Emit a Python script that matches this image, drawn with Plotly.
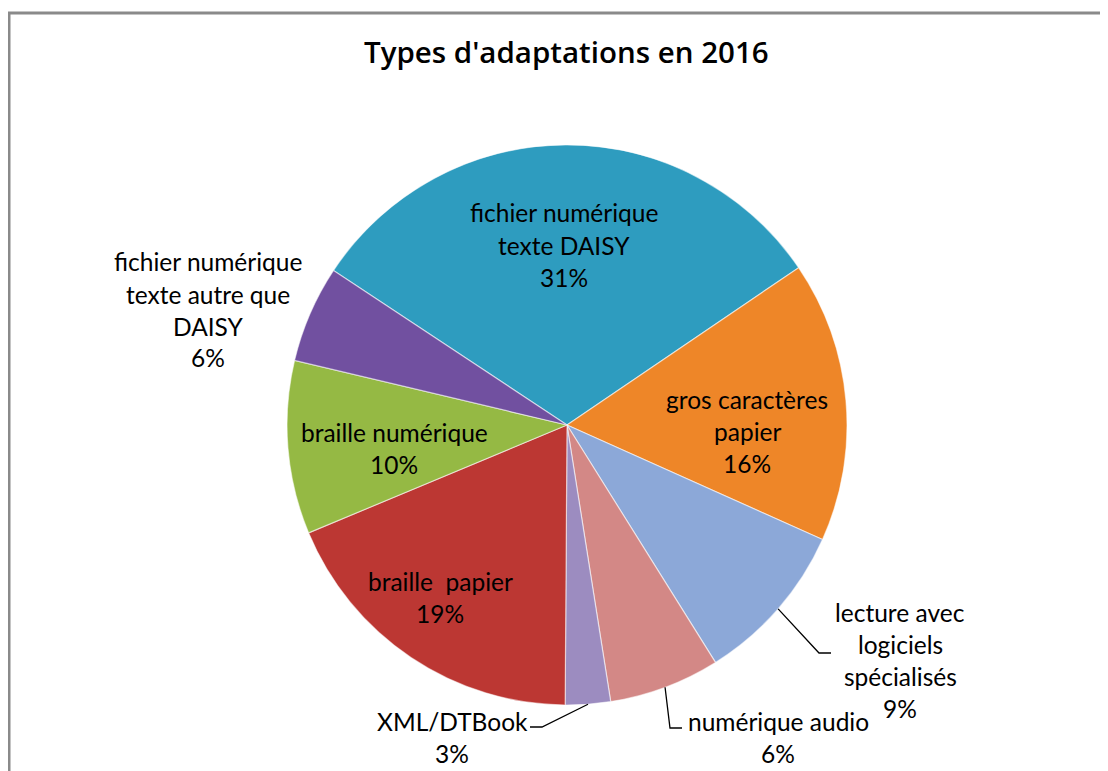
import math
import plotly.graph_objects as go

# ---------------- data ----------------
categories = [
    "fichier numérique<br>texte DAISY",
    "gros caractères<br>papier",
    "lecture avec<br>logiciels<br>spécialisés",
    "numérique audio",
    "XML/DTBook",
    "braille\u00a0\u00a0papier",
    "braille numérique",
    "fichier numérique<br>texte autre que<br>DAISY",
]
values = [31.2, 16.2, 9.4, 6.4, 2.6, 18.6, 10.0, 5.6]
title_text = "Types d'adaptations en 2016"

# ---------------- styles ----------------
colors = ["#2E9CBF", "#EE8628", "#8CA8D8", "#D38886",
          "#9C8CC0", "#BC3733", "#95B944", "#7150A0"]

W, H = 1108, 771
OFF = 8  # page body margin
CX, CY, R = 567, 425, 280
ROTATION = -56.5
FONT = "Lato, Carlito, Calibri, sans-serif"
FS = 24.5
LINE_H = 32

# label centre (pixels) and optional leader elbow points (pixels)
label_pos = [
    (564, 245, None),
    (747, 431, None),
    (900, 660, [(819, 653), (831, 653)]),
    (778, 737, [(670, 728), (682, 728)]),
    (452, 737, [(542, 727), (530, 727)]),
    (440, 597, None),
    (394, 448, None),
    (208, 310, None),
]


def px(x):
    return (x - OFF) / W


def py(y):
    return 1 - (y - OFF) / H


fig = go.Figure(go.Pie(
    labels=[c.replace("<br>", " ") for c in categories],
    values=values,
    sort=False,
    direction="clockwise",
    rotation=ROTATION,
    textinfo="none",
    hoverinfo="label+percent",
    marker=dict(colors=colors, line=dict(color="rgba(255,255,255,0.55)", width=1.2)),
    domain=dict(x=[px(CX - R), px(CX + R)], y=[py(CY + R), py(CY - R)]),
    showlegend=False,
))

total = sum(values)
annotations = []
shapes = []
cum = 0.0
for cat, v, (lx, ly, elbow) in zip(categories, values, label_pos):
    mid = ROTATION + (cum + v / 2) / total * 360
    cum += v
    pct = f"{round(v / total * 100)}%"
    lines = cat.split("<br>") + [pct]
    n = len(lines)
    for i, t in enumerate(lines):
        yy = ly + (i - (n - 1) / 2) * LINE_H
        annotations.append(dict(
            x=px(lx), y=py(yy), xref="paper", yref="paper",
            text=t, showarrow=False, xanchor="center", yanchor="middle",
            font=dict(family=FONT, size=FS, color="#000000"),
        ))
    if elbow:
        a = math.radians(mid)
        sx = CX + R * math.sin(a)
        sy = CY - R * math.cos(a)
        pts = [(sx, sy)] + elbow
        path = "M " + " L ".join(f"{px(x):.5f},{py(y):.5f}" for x, y in pts)
        shapes.append(dict(type="path", path=path, xref="paper", yref="paper",
                           line=dict(color="#000000", width=1.3)))

# chart frame (top and left edges visible)
shapes.append(dict(type="line", xref="paper", yref="paper",
                   x0=px(8), y0=py(13), x1=px(W + 40), y1=py(13),
                   line=dict(color="#8A8A8A", width=3)))
shapes.append(dict(type="line", xref="paper", yref="paper",
                   x0=px(9), y0=py(12), x1=px(9), y1=py(H + 40),
                   line=dict(color="#8A8A8A", width=3)))

annotations.append(dict(
    x=px(566), y=py(51), xref="paper", yref="paper",
    text=title_text, showarrow=False,
    xanchor="center", yanchor="middle",
    font=dict(family="Open Sans, Noto Sans, sans-serif", size=29.5,
              weight=600, color="#000000"),
))

fig.update_layout(
    width=W, height=H,
    margin=dict(l=0, r=0, t=0, b=0),
    paper_bgcolor="white",
    plot_bgcolor="white",
    annotations=annotations,
    shapes=shapes,
)

fig.write_html("out.html")
